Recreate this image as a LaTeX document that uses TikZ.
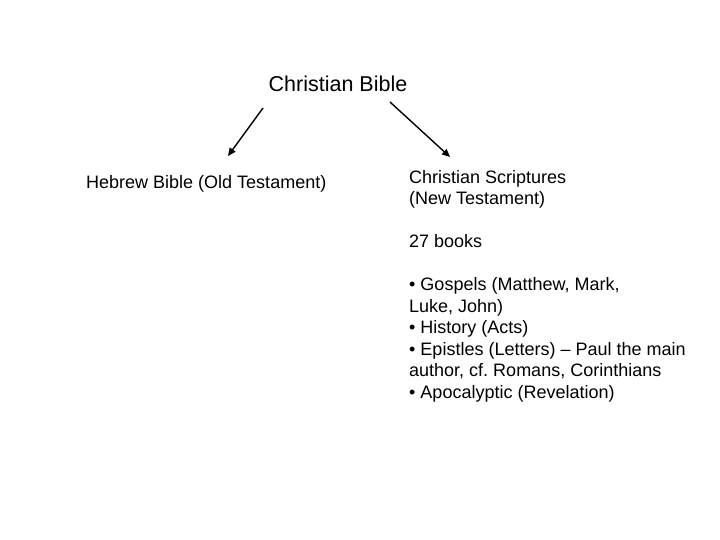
\documentclass[tikz,border=0pt]{standalone}
\usepackage{fontspec}
\setmainfont{Liberation Sans}
\usetikzlibrary{arrows.meta}
\frenchspacing
\begin{document}
\begin{tikzpicture}[x=1pt,y=-1pt,
  body/.style={inner sep=0pt,font=\fontsize{18}{21.5}\selectfont,align=left},
  arr/.style={line width=1.4pt,-{Triangle[length=8pt,width=7pt]}}]
\useasboundingbox (0,0) rectangle (720,540);
\node[inner sep=0pt,anchor=base,font=\fontsize{21.5}{24}\selectfont] (title) at (338,92) {Christian Bible};
\node[body,anchor=base west] (heb) at (86,189) {Hebrew Bible (Old Testament)};
\node[body,anchor=north west] (nt) at (409,170) {Christian Scriptures\\(New Testament)\\[21.5pt]27 books\\[21.5pt]%
• Gospels (Matthew, Mark,\\Luke, John)\\• History (Acts)\\• Epistles (Letters) – Paul the main\\author, cf.\ Romans, Corinthians\\• Apocalyptic (Revelation)};
\coordinate (ls) at (263,108);
\coordinate (le) at (228,156);
\coordinate (rs) at (390,102);
\coordinate (re) at (450,157);
\draw[arr] (ls) -- (le);
\draw[arr] (rs) -- (re);
\end{tikzpicture}
\end{document}
